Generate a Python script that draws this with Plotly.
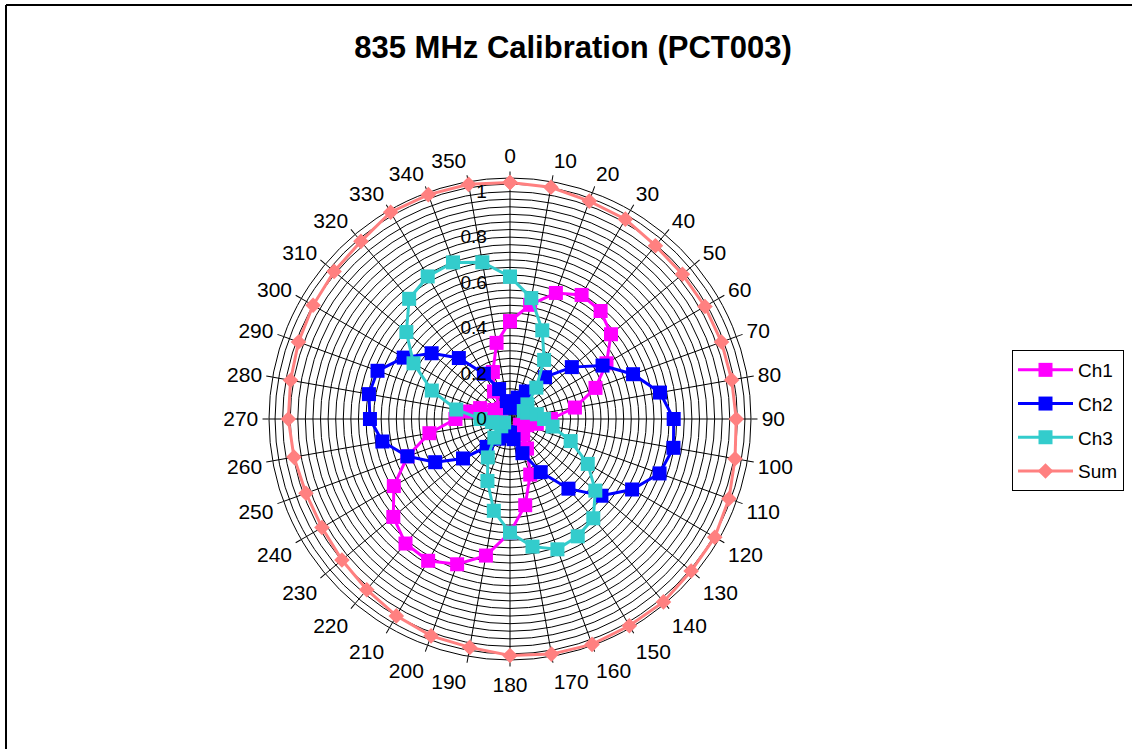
import plotly.graph_objects as go

# Bearing of each measurement (degrees, clockwise from north)
angles = list(range(0, 360, 10))

ch1 = [0.43, 0.51, 0.59, 0.63, 0.62, 0.58, 0.49, 0.40, 0.29, 0.18,
       0.12, 0.08, 0.05, 0.06, 0.09, 0.15, 0.26, 0.385, 0.50, 0.61,
       0.68, 0.72, 0.715, 0.67, 0.59, 0.48, 0.36, 0.24, 0.19, 0.14,
       0.08, 0.05, 0.06, 0.14, 0.22, 0.34]
ch2 = [0.05, 0.07, 0.10, 0.14, 0.24, 0.355, 0.47, 0.576, 0.67, 0.72,
       0.73, 0.70, 0.62, 0.525, 0.40, 0.27, 0.16, 0.09, 0.06, 0.06,
       0.08, 0.10, 0.16, 0.27, 0.38, 0.48, 0.57, 0.616, 0.63, 0.62,
       0.54, 0.45, 0.35, 0.23, 0.14, 0.08]
ch3 = [0.626, 0.54, 0.415, 0.30, 0.18, 0.10, 0.07, 0.08, 0.12, 0.15,
       0.19, 0.284, 0.395, 0.49, 0.57, 0.596, 0.61, 0.57, 0.50, 0.41,
       0.29, 0.195, 0.107, 0.05, 0.03, 0.05, 0.08, 0.13, 0.24, 0.366,
       0.49, 0.595, 0.69, 0.724, 0.733, 0.70]
total = [1.04, 1.035, 1.02, 1.015, 0.995, 0.99, 0.99, 0.99, 0.99, 0.995,
         1.005, 1.025, 1.04, 1.04, 1.05, 1.05, 1.055, 1.05, 1.04, 1.02,
         1.015, 1.0, 0.98, 0.965, 0.955, 0.955, 0.965, 0.975, 0.98, 0.99,
         1.0, 1.01, 1.02, 1.05, 1.05, 1.048]

radial_labels = [0, 0.2, 0.4, 0.6, 0.8, 1]
ring_step = 1 / 30
radial_max = 1.06

series = [
    ("Ch1", ch1, "#FF00FF", "square", 14),
    ("Ch2", ch2, "#0000FF", "square", 14),
    ("Ch3", ch3, "#33CCCC", "square", 14),
    ("Sum", total, "#FF8080", "diamond", 12),
]


def closed(values):
    return list(values) + list(values[:1])


theta = closed(angles)

fig = go.Figure()
for name, values, color, symbol, size in series:
    fig.add_trace(go.Scatterpolar(
        r=closed(values),
        theta=theta,
        name=name,
        legendgroup=name,
        mode="lines+markers",
        line=dict(color=color, width=3),
        marker=dict(symbol=symbol, size=size, color=color),
        cliponaxis=False,
    ))

# Rings every 1/30; labelled every 0.2
ring_vals = [i * ring_step for i in range(int(radial_max / ring_step) + 1)]
ring_text = []
for v in ring_vals:
    match = [lab for lab in radial_labels if abs(lab - v) < 1e-6]
    ring_text.append(f"{match[0]:g}" if match else "")

font = "Liberation Sans, Arial, sans-serif"
W, H = 1132, 749
cx, cy, R = 510, 419, 241

fig.update_layout(
    width=W,
    height=H,
    margin=dict(l=0, r=0, t=0, b=0),
    paper_bgcolor="white",
    plot_bgcolor="white",
    font=dict(family=font, color="black", size=19),
    title=dict(
        text="<b>835 MHz Calibration (PCT003)</b>",
        x=573 / W,
        xanchor="center",
        y=1 - 47 / H,
        yanchor="middle",
        font=dict(family=font, size=31, color="black"),
    ),
    polar=dict(
        domain=dict(x=[(cx - R) / W, (cx + R) / W],
                    y=[1 - (cy + R) / H, 1 - (cy - R) / H]),
        bgcolor="white",
        angularaxis=dict(
            direction="clockwise",
            rotation=90,
            tickmode="array",
            tickvals=angles,
            ticktext=[str(a) for a in angles],
            ticks="outside",
            ticklen=6,
            tickcolor="black",
            tickfont=dict(size=21, family=font, color="black"),
            showline=True,
            linecolor="black",
            linewidth=1,
            gridcolor="black",
            gridwidth=1,
            layer="below traces",
        ),
        radialaxis=dict(
            range=[0, radial_max],
            angle=90,
            tickangle=90,
            side="counterclockwise",
            tickmode="array",
            tickvals=ring_vals,
            ticktext=ring_text,
            ticks="outside",
            ticklen=16,
            tickcolor="rgba(0,0,0,0)",
            showline=False,
            gridcolor="black",
            gridwidth=1,
            tickfont=dict(size=19, family=font, color="black"),
            layer="above traces",
        ),
    ),
    legend=dict(
        x=1012 / W,
        xanchor="left",
        y=1 - 350 / H,
        yanchor="top",
        bordercolor="black",
        borderwidth=1,
        bgcolor="white",
        font=dict(size=19, family=font, color="black"),
        tracegroupgap=6,
        itemwidth=55,
    ),
    showlegend=True,
    shapes=[
        dict(type="line", xref="paper", yref="paper",
             x0=6 / W, x1=1.0, y0=1 - 5 / H, y1=1 - 5 / H,
             line=dict(color="black", width=2)),
        dict(type="line", xref="paper", yref="paper",
             x0=6 / W, x1=6 / W, y0=0, y1=1 - 5 / H,
             line=dict(color="black", width=2)),
    ],
)

fig.write_html("out.html")
